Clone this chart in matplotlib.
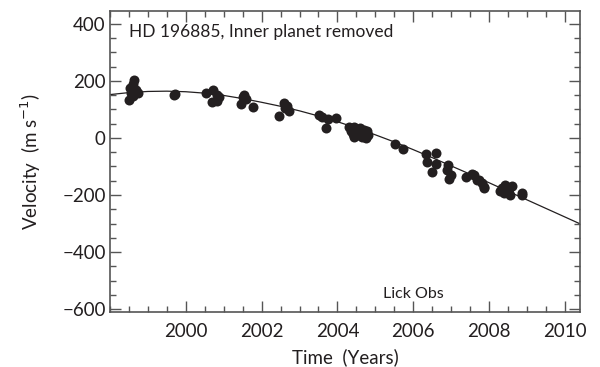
import numpy as np
import matplotlib
matplotlib.use("Agg")
from matplotlib import pyplot as plt
from matplotlib.ticker import MultipleLocator

obs_t = [1998.49, 1998.52, 1998.55, 1998.60, 1998.62, 1998.64, 1998.68, 1998.73,
         1999.68, 1999.72,
         2000.53, 2000.70, 2000.72, 2000.83, 2000.83, 2000.88,
         2001.45, 2001.52, 2001.54, 2001.58, 2001.76,
         2002.46, 2002.59, 2002.63, 2002.68, 2002.72,
         2003.51, 2003.60, 2003.69, 2003.75, 2003.95,
         2004.30, 2004.35, 2004.40, 2004.45, 2004.45, 2004.50, 2004.55, 2004.60,
         2004.62, 2004.65, 2004.70, 2004.72, 2004.75, 2004.78, 2004.80,
         2005.53, 2005.73,
         2006.34, 2006.37, 2006.50, 2006.59, 2006.61, 2006.89, 2006.92, 2006.94, 2007.00,
         2007.38, 2007.55, 2007.60, 2007.68, 2007.73, 2007.82, 2007.86, 2007.88,
         2008.28, 2008.35, 2008.39, 2008.43, 2008.53, 2008.56, 2008.61, 2008.87, 2008.87]
obs_v = [134, 175, 159, 190, 147, 202, 167, 159,
         149, 155,
         159, 126, 167, 152, 128, 143,
         120, 145, 152, 138, 110,
         77, 124, 104, 112, 93,
         79, 73, 35, 68, 71,
         40, 25, 15, 38, 5, 30, 10, 35,
         20, 5, 28, 15, 0, 25, 10,
         -22, -37,
         -57, -84, -119, -52, -90, -113, -95, -145, -130,
         -138, -127, -130, -148, -148, -159, -177, -173,
         -185, -177, -194, -165, -180, -200, -169, -194, -200]

# outer planet orbit fit, sampled off the figure
fit_t = [1998.0, 1998.5, 1999.0, 1999.5, 2000.0, 2000.5, 2001.0, 2001.5, 2002.0,
         2002.5, 2003.0, 2003.5, 2004.0, 2004.5, 2005.0, 2005.5, 2006.0, 2006.5,
         2007.0, 2007.5, 2008.0, 2008.5, 2009.0, 2009.5, 2010.0, 2010.4]
fit_v = [152, 159, 163, 164, 162, 157, 149, 138, 125,
         111, 95, 77, 57, 35, 11, -14, -41, -69,
         -98, -127, -157, -187, -217, -247, -277, -301]

plt.rcParams['font.family'] = ['Lato', 'DejaVu Sans']
ink = '#231f20'

fig = plt.figure(figsize=(6, 3.67), dpi=100)
ax = fig.add_axes([0.1833, 0.15, 0.7834, 0.82])

ax.plot(fit_t, fit_v, color=ink, lw=0.9, zorder=2)
ax.plot(obs_t, obs_v, 'o', color=ink, ms=7.2, mew=0, zorder=3)

ax.set_xlim(1998.0, 2010.4)
ax.set_ylim(-610, 445)
ax.xaxis.set_major_locator(MultipleLocator(2))
ax.xaxis.set_minor_locator(MultipleLocator(0.5))
ax.yaxis.set_major_locator(MultipleLocator(200))
ax.yaxis.set_minor_locator(MultipleLocator(50))
ax.set_xticks([2000, 2002, 2004, 2006, 2008, 2010])
ax.set_yticks([-600, -400, -200, 0, 200, 400])
ax.set_yticklabels(['\u2212600', '\u2212400', '\u2212200', '0', '200', '400'])

ax.tick_params(which='both', direction='in', top=True, right=True,
               color='#555555', width=1, labelsize=13.5, labelcolor=ink)
ax.tick_params(axis='x', pad=8)
ax.tick_params(axis='y', pad=3)
ax.tick_params(which='major', length=8)
ax.tick_params(which='minor', length=4)
for s in ax.spines.values():
    s.set_color('#555555')
    s.set_linewidth(1.2)

ax.set_xlabel('Time  (Years)', fontsize=13.5, color=ink, labelpad=6)
ax.set_ylabel('Velocity  (m s$^{-1}$)', fontsize=13.5, color=ink, labelpad=14)

ax.text(0.04, 0.93, 'HD 196885, Inner planet removed', transform=ax.transAxes,
        fontsize=12.5, color=ink, va='center', ha='left')
ax.text(0.58, 0.058, 'Lick Obs', transform=ax.transAxes,
        fontsize=11.5, color=ink, va='center', ha='left')

fig.savefig('out.png', dpi=100)
